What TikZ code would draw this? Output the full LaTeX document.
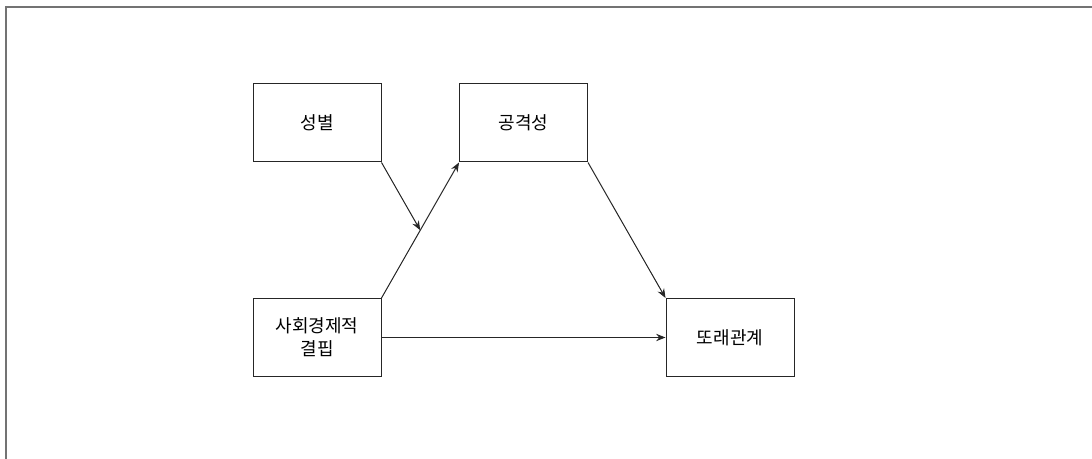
\documentclass[tikz,border=0pt]{standalone}
\usepackage{fontspec}
\newfontfamily\kr{Noto Sans CJK KR}
\usetikzlibrary{arrows.meta,calc}
\begin{document}
\begin{tikzpicture}[x=0.75pt,y=-0.75pt,
  box/.style={draw=black!85,line width=0.75pt,minimum width=96pt,minimum height=58.5pt,inner sep=0pt,align=center,font=\kr\fontsize{13.5}{17}\selectfont},
  conn/.style={draw=black!85,line width=0.75pt,-{Stealth[length=7pt,width=5.5pt]}}]
\useasboundingbox (0,0) rectangle (1092,459);
\draw[black!55,line width=1.5pt] (6,470) -- (6,7) -- (1100,7);
\node[box] (gender) at (317,123) {성별};
\node[box] (aggr) at (523.5,123) {공격성};
\node[box] (ses) at (317,337.5) {사회경제적\\결핍};
\node[box] (peer) at (730,337.5) {또래관계};
\draw[conn] (ses.north east) -- coordinate[pos=0.5] (mid) (aggr.south west);
\draw[conn] (gender.south east) -- (mid);
\draw[conn] (aggr.south east) -- (peer.north west);
\draw[conn] (ses.east) -- (peer.west);
\end{tikzpicture}
\end{document}
